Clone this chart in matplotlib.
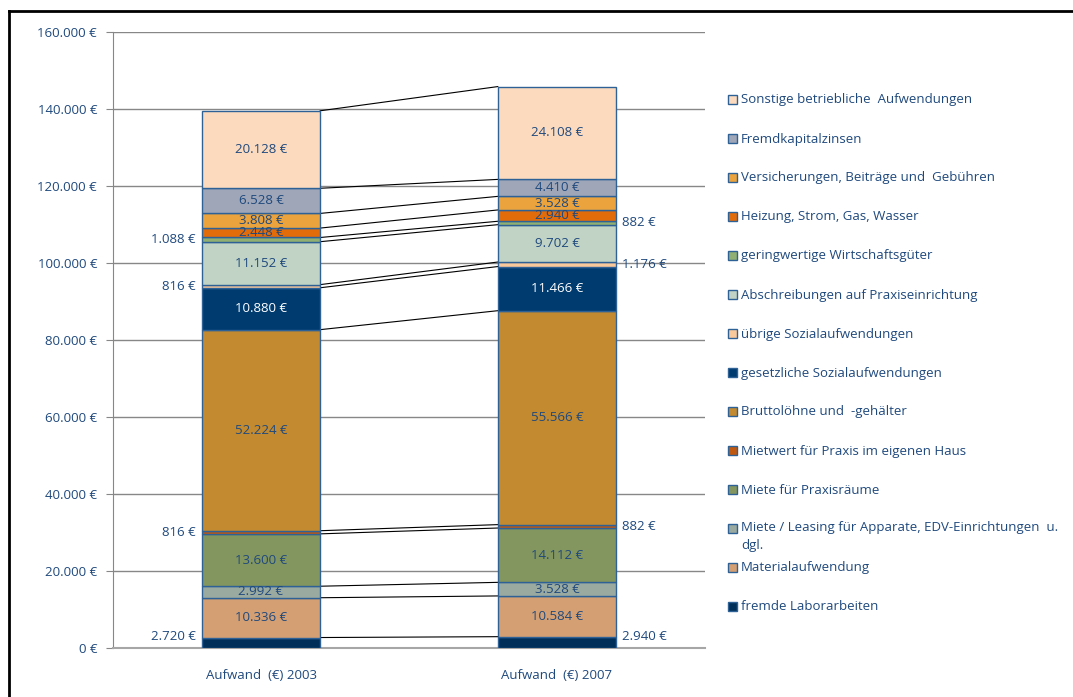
import matplotlib.pyplot as plt
from matplotlib.patches import Rectangle
from matplotlib.lines import Line2D

plt.rcParams['font.family'] = ['Open Sans', 'DejaVu Sans']

# categories from bottom to top of the stack
categories = [
    'fremde Laborarbeiten',
    'Materialaufwendung',
    'Miete / Leasing für Apparate, EDV-Einrichtungen  u.\ndgl.',
    'Miete für Praxisräume',
    'Mietwert für Praxis im eigenen Haus',
    'Bruttolöhne und  -gehälter',
    'gesetzliche Sozialaufwendungen',
    'übrige Sozialaufwendungen',
    'Abschreibungen auf Praxiseinrichtung',
    'geringwertige Wirtschaftsgüter',
    'Heizung, Strom, Gas, Wasser',
    'Versicherungen, Beiträge und  Gebühren',
    'Fremdkapitalzinsen',
    'Sonstige betriebliche  Aufwendungen',
]
bar_labels = ['Aufwand  (€) 2003', 'Aufwand  (€) 2007']
values_2003 = [2720, 10336, 2992, 13600, 816, 52224, 10880, 816, 11152, 1088, 2448, 3808, 6528, 20128]
values_2007 = [2940, 10584, 3528, 14112, 882, 55566, 11466, 1176, 9702, 882, 2940, 3528, 4410, 24108]
colors = ['#00305A', '#D4A073', '#9BAAA0', '#84965F', '#C0580F', '#C38A30', '#003B6F',
          '#F9C99B', '#C0D3C4', '#8FAF73', '#E36C0A', '#EAA33D', '#9EA6B8', '#FCDABE']
# small segments labelled beside the bar
outside = {0, 4, 7, 9}
# dark segments get white labels
white_lab = {6}

txt = '#1F497D'
edge = '#2E6196'

fig = plt.figure(figsize=(10.73, 6.97), dpi=100)
ax = fig.add_axes([113 / 1073, 49 / 697, 592 / 1073, 616 / 697])

width = 0.4
series = [values_2003, values_2007]
tops = []
for xi, vals in enumerate(series):
    bottom = 0
    bar_tops = []
    for ci, v in enumerate(vals):
        ax.bar(xi, v, width, bottom=bottom, color=colors[ci], edgecolor=edge, linewidth=1, zorder=3)
        lab = f'{v:,.0f} €'.replace(',', '.')
        mid = max(bottom + v / 2, 2900)
        if ci in outside:
            if xi == 0:
                ax.text(xi - width / 2 - 0.02, mid, lab, ha='right', va='center', color=txt, fontsize=9.5)
            else:
                ax.text(xi + width / 2 + 0.02, mid, lab, ha='left', va='center', color=txt, fontsize=9.5)
        else:
            ax.text(xi, mid, lab, ha='center', va='center', fontsize=9.5, zorder=4,
                    color='white' if ci in white_lab else txt)
        bottom += v
        bar_tops.append(bottom)
    tops.append(bar_tops)

# connector lines between the bars
for t0, t1 in zip(tops[0], tops[1]):
    ax.plot([width / 2, 1 - width / 2], [t0, t1], color='black', lw=0.8, zorder=2)

ax.set_xlim(-0.5, 1.5)
ax.set_ylim(0, 160000)
yt = list(range(0, 160001, 20000))
ax.set_yticks(yt)
ax.set_yticklabels([f'{v:,.0f} €'.replace(',', '.') for v in yt], color=txt, fontsize=9.5)
ax.set_xticks([0, 1])
ax.set_xticklabels(bar_labels, color=txt, fontsize=9.5)
ax.tick_params(axis='x', length=0, pad=15)
ax.tick_params(axis='y', length=5, color='#878787', pad=6.5)
ax.grid(axis='y', color='#878787', lw=1, zorder=0)
for s in ['top', 'right']:
    ax.spines[s].set_visible(False)
ax.spines['left'].set_color('#878787')
ax.spines['bottom'].set_color('#A6A6A6')
ax.spines['bottom'].set_linewidth(1.5)

# legend, top entry first
W, H = 1073, 697
for i, ci in enumerate(reversed(range(len(categories)))):
    y = 100 + 39 * i
    fig.patches.append(Rectangle((728 / W, 1 - (y + 4) / H), 9 / W, 9 / H, transform=fig.transFigure,
                                 facecolor=colors[ci], edgecolor=edge, lw=1))
    two_line = '\n' in categories[ci]
    fig.text(741 / W, 1 - (y - 8 if two_line else y) / H, categories[ci], color=txt, fontsize=9.5,
             va='top' if two_line else 'center', linespacing=1.5)

# outer frame
fig.add_artist(Line2D([9 / W, 1], [1 - 11 / H, 1 - 11 / H], color='black', lw=2, transform=fig.transFigure))
fig.add_artist(Line2D([9 / W, 9 / W], [0, 1 - 11 / H], color='black', lw=2, transform=fig.transFigure))

fig.savefig('out.png', dpi=100)
